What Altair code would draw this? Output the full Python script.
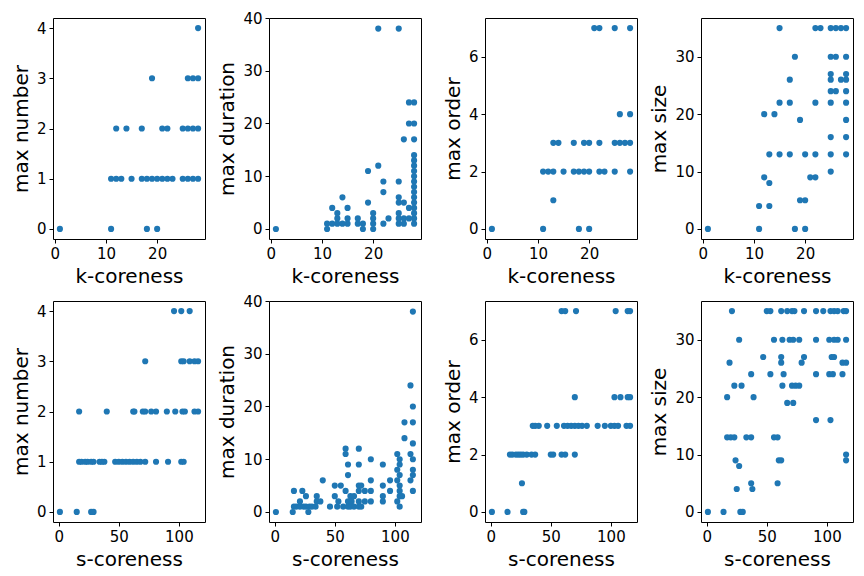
import altair as alt
import pandas as pd

# ---- top row: k-coreness ----
k_number_x = [1, 11, 18, 20,
              11, 12, 13, 15, 17, 18, 19, 20, 21, 22, 23, 25, 26, 27, 28,
              12, 14, 17, 21, 22, 25, 26, 27, 28,
              19, 26, 27, 28,
              28]
k_number_y = [0, 0, 0, 0,
              1, 1, 1, 1, 1, 1, 1, 1, 1, 1, 1, 1, 1, 1, 1,
              2, 2, 2, 2, 2, 2, 2, 2, 2,
              3, 3, 3, 3,
              4]

k_duration_x = [1, 11, 11, 12, 12, 13, 13, 13, 14, 14, 15, 15, 15, 17, 17, 18, 18,
                19, 19, 20, 20, 20, 20, 21, 21, 22, 22, 22, 23,
                25, 25, 25, 25, 25, 25, 25, 26, 26, 26, 26, 27, 27, 27, 27,
                28, 28, 28, 28, 28, 28, 28, 28, 28, 28, 28, 28, 28, 28, 28, 28, 28]
k_duration_y = [0, 0, 1, 1, 4, 1, 2, 3, 1, 6, 1, 2, 4, 1, 2, 0, 1,
                5, 11, 0, 1, 2, 3, 12, 38, 1, 7, 9, 2,
                1, 2, 3, 5, 6, 9, 38, 1, 2, 5, 17, 2, 4, 20, 24,
                1, 2, 3, 4, 5, 6, 7, 8, 9, 10, 11, 12, 13, 14, 17, 20, 24]

k_order_x = [1, 11, 18, 20,
             13,
             11, 12, 13, 15, 17, 18, 19, 20, 22, 23, 25, 28,
             13, 14, 17, 19, 20, 22, 25, 26, 27, 28,
             26, 28,
             21, 22, 25, 28]
k_order_y = [0, 0, 0, 0,
             1,
             2, 2, 2, 2, 2, 2, 2, 2, 2, 2, 2, 2,
             3, 3, 3, 3, 3, 3, 3, 3, 3, 3,
             4, 4,
             7, 7, 7, 7]

k_size_x = [1, 11, 18, 20, 11, 13, 12, 13, 19, 20, 21, 22, 25,
            13, 15, 17, 20, 22, 25, 28, 25, 28, 19, 28, 12, 14,
            15, 17, 22, 25, 28, 25, 26, 28, 17, 25, 27, 28, 25, 28,
            18, 25, 26, 28, 15, 22, 23, 25, 26, 27, 28]
k_size_y = [0, 0, 0, 0, 4, 4, 9, 8, 5, 5, 9, 9, 10,
            13, 13, 13, 13, 13, 13, 13, 16, 16, 19, 19, 20, 20,
            22, 22, 22, 22, 22, 24, 24, 24, 26, 26, 26, 26, 27, 27,
            30, 30, 30, 30, 35, 35, 35, 35, 35, 35, 35]

# ---- bottom row: s-coreness ----
s_number_x = [1, 15, 27, 29,
              17, 19, 22, 24, 27, 29, 34, 36, 38, 47, 50, 53, 56, 59, 62, 65, 68, 72, 81, 91, 102, 104,
              17, 40, 62, 63, 70, 72, 77, 81, 90, 97, 103, 105, 113, 116,
              72, 102, 104, 109, 113, 116,
              96, 102, 109]
s_number_y = [0, 0, 0, 0,
              1, 1, 1, 1, 1, 1, 1, 1, 1, 1, 1, 1, 1, 1, 1, 1, 1, 1, 1, 1, 1, 1,
              2, 2, 2, 2, 2, 2, 2, 2, 2, 2, 2, 2, 2, 2,
              3, 3, 3, 3, 3, 3,
              4, 4, 4]

s_duration_x = [1, 15, 16, 16, 18, 21, 21, 23, 24, 26, 26, 28, 29, 31, 35, 35, 34, 38, 40,
                46, 50, 50, 53, 52, 55, 57, 59, 59, 59, 61, 61, 61, 61, 63, 63, 64, 66, 66,
                70, 70, 70, 70, 70, 70, 72, 72, 75, 75, 80, 80, 80, 80, 90, 90, 90, 90,
                96, 96, 102, 102, 102, 102, 104, 104, 104, 104, 104, 104, 104, 106,
                108, 108, 113, 113, 113, 115, 115, 115, 115, 115, 115, 115, 115]
s_duration_y = [0, 0, 1, 4, 1, 2, 1, 4, 1, 3, 1, 0, 1, 1, 3, 2, 1, 2, 6,
                1, 5, 3, 2, 1, 5, 1, 12, 11, 4, 9, 7, 2, 1, 3, 1, 2, 3, 1,
                12, 9, 5, 4, 2, 1, 5, 1, 4, 2, 10, 6, 4, 2, 9, 5, 3, 2,
                6, 4, 11, 8, 6, 2, 10, 9, 7, 5, 4, 3, 1, 3,
                17, 14, 24, 11, 6, 38, 20, 17, 13, 10, 8, 7, 4]

s_order_x = [1, 14, 27, 28,
             26,
             16, 18, 21, 23, 25, 27, 30, 34, 37, 50, 52, 59, 62, 70,
             35, 37, 40, 47, 55, 61, 64, 67, 70, 73, 76, 80, 89, 95, 100, 103, 106, 113, 116,
             70, 103, 108, 114, 116,
             59, 62, 71, 104, 114, 116]
s_order_y = [0, 0, 0, 0,
             1,
             2, 2, 2, 2, 2, 2, 2, 2, 2, 2, 2, 2, 2, 2,
             3, 3, 3, 3, 3, 3, 3, 3, 3, 3, 3, 3, 3, 3, 3, 3, 3, 3, 3,
             4, 4, 4, 4, 4,
             7, 7, 7, 7, 7, 7]

s_size_x = [1, 14, 28, 30, 25, 38, 37, 59, 24, 27, 60, 62, 116, 116,
            17, 20, 23, 33, 37, 56, 59, 91, 103, 67, 72, 17, 39,
            23, 29, 63, 71, 74, 77,
            37, 53, 64, 91, 102, 105, 113,
            19, 62, 79, 113, 116,
            47, 62, 81, 104, 106,
            27, 56, 63, 69, 72, 77, 91, 102, 106, 109, 116,
            21, 50, 53, 62, 67, 71, 73, 81, 91, 97, 103, 106, 109, 114, 116]
s_size_y = [0, 0, 0, 0, 4, 4, 5, 5, 9, 8, 9, 9, 9, 10,
            13, 13, 13, 13, 13, 13, 13, 16, 16, 19, 19, 20, 20,
            22, 22, 22, 22, 22, 22,
            24, 24, 24, 24, 24, 24, 24,
            26, 26, 26, 26, 26,
            27, 27, 27, 27, 27,
            30, 30, 30, 30, 30, 30, 30, 30, 30, 30, 30,
            35, 35, 35, 35, 35, 35, 35, 35, 35, 35, 35, 35, 35, 35, 35]

FONT = "DejaVu Sans"
BLUE = "#1f77b4"

k_dom, k_ticks = [-0.35, 29.35], [0, 10, 20]
s_dom, s_ticks = [-4.75, 121.75], [0, 50, 100]


def panel(xs, ys, xtitle, ytitle, xdom, xticks, ydom, yticks):
    df = pd.DataFrame({"x": xs, "y": ys})
    return alt.Chart(df).mark_circle(size=38, opacity=1, color=BLUE).encode(
        x=alt.X("x:Q", title=xtitle,
                scale=alt.Scale(domain=xdom, nice=False, zero=False),
                axis=alt.Axis(values=xticks, format="d")),
        y=alt.Y("y:Q", title=ytitle,
                scale=alt.Scale(domain=ydom, nice=False, zero=False),
                axis=alt.Axis(values=yticks, format="d")),
    ).properties(width=152, height=221)


panels = [
    panel(k_number_x, k_number_y, "k-coreness", "max number", k_dom, k_ticks, [-0.2, 4.2], [0, 1, 2, 3, 4]),
    panel(k_duration_x, k_duration_y, "k-coreness", "max duration", k_dom, k_ticks, [-1.9, 40], [0, 10, 20, 30, 40]),
    panel(k_order_x, k_order_y, "k-coreness", "max order", k_dom, k_ticks, [-0.35, 7.35], [0, 2, 4, 6]),
    panel(k_size_x, k_size_y, "k-coreness", "max size", k_dom, k_ticks, [-1.75, 36.75], [0, 10, 20, 30]),
    panel(s_number_x, s_number_y, "s-coreness", "max number", s_dom, s_ticks, [-0.2, 4.2], [0, 1, 2, 3, 4]),
    panel(s_duration_x, s_duration_y, "s-coreness", "max duration", s_dom, s_ticks, [-1.9, 40], [0, 10, 20, 30, 40]),
    panel(s_order_x, s_order_y, "s-coreness", "max order", s_dom, s_ticks, [-0.35, 7.35], [0, 2, 4, 6]),
    panel(s_size_x, s_size_y, "s-coreness", "max size", s_dom, s_ticks, [-1.75, 36.75], [0, 10, 20, 30]),
]

chart = alt.concat(
    *panels, columns=4, spacing={"row": 62, "column": 64}, bounds="flush"
).configure(
    font=FONT,
    padding={"left": 2, "top": 2, "right": 2, "bottom": 5},
    background="white",
).configure_view(
    stroke="black", strokeWidth=1, fill="white",
).configure_axis(
    grid=False, domain=False,
    ticks=True, tickColor="black", tickSize=4, tickWidth=1,
    labelFont=FONT, labelFontSize=15, labelColor="black", labelPadding=3,
    titleFont=FONT, titleFontSize=20, titleFontWeight="normal", titleColor="black",
    titlePadding=5, labelOverlap=False, labelFlush=False,
)

chart.save("out.html", embed_options={"renderer": "svg", "actions": False})
